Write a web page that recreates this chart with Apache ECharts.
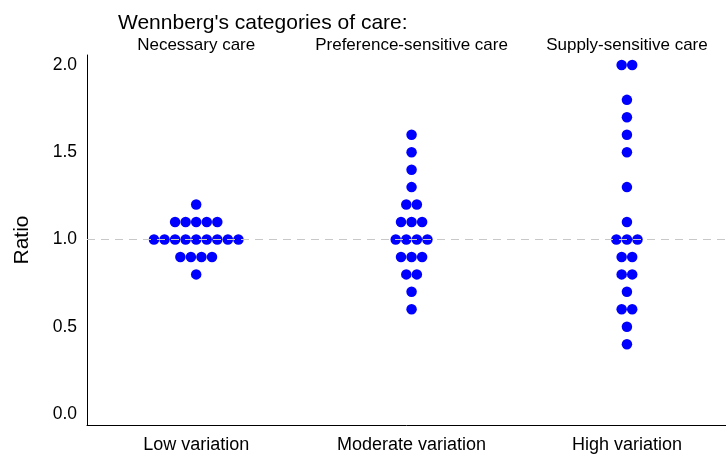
<!DOCTYPE html>
<html>
<head>
<meta charset="utf-8">
<script src="https://cdn.jsdelivr.net/npm/echarts@6/dist/echarts.min.js"></script>
<style>
  html, body { margin: 0; padding: 0; background: #fff; }
  #chart { width: 726px; height: 457px; }
</style>
</head>
<body>
<div id="chart"></div>
<script>
// categories (bottom) and care types (top)
const variationLabels = ["Low variation", "Moderate variation", "High variation"];
const careLabels = ["Necessary care", "Preference-sensitive care", "Supply-sensitive care"];
const yTicks = [0, 0.5, 1.0, 1.5, 2.0];

// ratio values, one entry per dot
const lowValues = [
  1.2,
  1.1, 1.1, 1.1, 1.1, 1.1,
  1.0, 1.0, 1.0, 1.0, 1.0, 1.0, 1.0, 1.0, 1.0,
  0.9, 0.9, 0.9, 0.9,
  0.8
];
const moderateValues = [
  1.6, 1.5, 1.4, 1.3,
  1.2, 1.2,
  1.1, 1.1, 1.1,
  1.0, 1.0, 1.0, 1.0,
  0.9, 0.9, 0.9,
  0.8, 0.8,
  0.7, 0.6
];
const highValues = [
  2.0, 2.0,
  1.8, 1.7, 1.6, 1.5, 1.3, 1.1,
  1.0, 1.0, 1.0,
  0.9, 0.9,
  0.8, 0.8,
  0.7,
  0.6, 0.6,
  0.5, 0.4
];

const groups = [lowValues, moderateValues, highValues];
const dotStep = 0.049; // horizontal spacing between dots, in x units

// simple beeswarm: dots with the same value are spread side by side
function swarm(values, center) {
  const counts = {};
  values.forEach(v => { counts[v] = (counts[v] || 0) + 1; });
  const out = [];
  Object.keys(counts).forEach(k => {
    const n = counts[k];
    for (let i = 0; i < n; i++) {
      out.push([center + (i - (n - 1) / 2) * dotStep, Number(k)]);
    }
  });
  return out;
}

const points = [];
groups.forEach((g, i) => { swarm(g, i + 1).forEach(p => points.push(p)); });

const chart = echarts.init(document.getElementById("chart"));
const font = "Liberation Sans, Arial, sans-serif";

chart.setOption({
  animation: false,
  textStyle: { fontFamily: font },
  title: {
    text: "Wennberg's categories of care:",
    left: 113,
    top: 8,
    textStyle: { fontSize: 21, fontWeight: "normal", color: "#000", fontFamily: font }
  },
  grid: { left: 87, right: 0, top: 55, bottom: 32 },
  xAxis: [
    {
      type: "value",
      min: 0.493,
      max: 3.46,
      position: "bottom",
      splitLine: { show: false },
      axisLine: { show: true, onZero: false, lineStyle: { color: "#000", width: 1 } },
      axisTick: { show: false },
      axisLabel: {
        customValues: [1, 2, 3],
        formatter: v => variationLabels[Math.round(v) - 1],
        fontSize: 18,
        color: "#000",
        margin: 11
      }
    },
    {
      type: "value",
      min: 0.493,
      max: 3.46,
      position: "top",
      splitLine: { show: false },
      axisLine: { show: false },
      axisTick: { show: false },
      axisLabel: {
        customValues: [1, 2, 3],
        formatter: v => careLabels[Math.round(v) - 1],
        fontSize: 17,
        color: "#000",
        margin: 1
      }
    }
  ],
  yAxis: {
    type: "value",
    min: -0.063,
    max: 2.057,
    name: "Ratio",
    nameLocation: "middle",
    nameRotate: 90,
    nameGap: 54,
    nameTextStyle: { fontSize: 21, color: "#000" },
    splitLine: { show: false },
    axisLine: { show: true, lineStyle: { color: "#000", width: 1 } },
    axisTick: { show: false },
    axisLabel: {
      customValues: yTicks,
      formatter: v => v.toFixed(1),
      fontSize: 17.5,
      color: "#000",
      margin: 10
    }
  },
  series: [
    {
      // reference line at ratio 1.0, kept under the dots
      type: "scatter",
      data: [],
      z: 1,
      markLine: {
        silent: true,
        symbol: "none",
        label: { show: false },
        lineStyle: { color: "#c8c8c8", type: [8, 6], width: 1.2 },
        data: [{ yAxis: 1 }]
      }
    },
    {
      type: "scatter",
      data: points,
      symbol: "circle",
      symbolSize: 10.5,
      itemStyle: { color: "#0000ff", opacity: 1 },
      z: 3
    }
  ]
});
</script>
</body>
</html>
